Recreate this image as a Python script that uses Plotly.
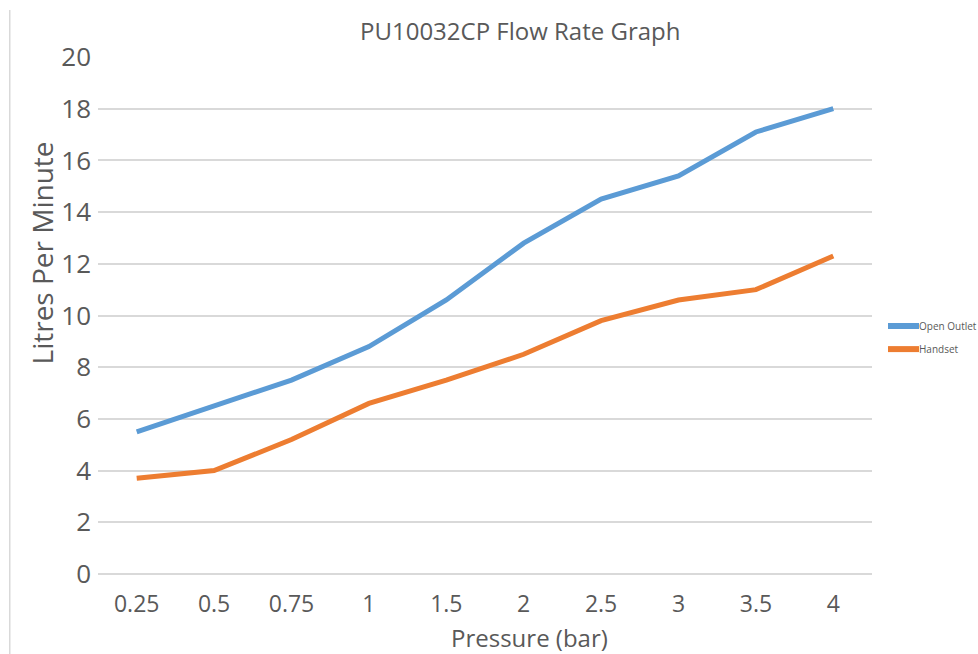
import plotly.graph_objects as go

pressure = ["0.25", "0.5", "0.75", "1", "1.5", "2", "2.5", "3", "3.5", "4"]
open_outlet = [5.5, 6.5, 7.5, 8.8, 10.6, 12.8, 14.5, 15.4, 17.1, 18.0]
handset = [3.7, 4.0, 5.2, 6.6, 7.5, 8.5, 9.8, 10.6, 11.0, 12.3]
y_ticks = list(range(0, 21, 2))

font_fam = "Open Sans, Liberation Sans, sans-serif"
gray = "#595959"
blue = "#5B9BD5"
orange = "#ED7D31"

fig = go.Figure()
fig.add_trace(go.Scatter(x=pressure, y=open_outlet, mode="lines", name="Open Outlet",
                         line=dict(color=blue, width=5)))
fig.add_trace(go.Scatter(x=pressure, y=handset, mode="lines", name="Handset",
                         line=dict(color=orange, width=5)))

# manual legend (placed in paper coordinates)
leg_items = [("Open Outlet", blue, 0.4797), ("Handset", orange, 0.435)]
lx0, lx1 = 1.0207, 1.0607
shapes = [dict(type="line", xref="paper", yref="paper",
               x0=-0.114, x1=-0.114, y0=-0.16, y1=1.091,
               line=dict(color="#d9d9d9", width=1.5))]
annotations = [
    dict(text="PU10032CP Flow Rate Graph", xref="paper", yref="paper",
         x=0.545, y=1.0, yshift=27, showarrow=False,
         font=dict(size=24, color=gray), xanchor="center", yanchor="middle"),
    dict(text="Pressure (bar)", xref="paper", yref="paper",
         x=0.558, y=0, yshift=-63, showarrow=False,
         font=dict(size=24, color=gray), xanchor="center", yanchor="middle"),
    dict(text="Litres Per Minute", xref="paper", yref="paper",
         x=0, xshift=-56, y=0.62, showarrow=False, textangle=-90,
         font=dict(size=28, color=gray), xanchor="center", yanchor="middle"),
]
for name, col, yy in leg_items:
    shapes.append(dict(type="line", xref="paper", yref="paper",
                       x0=lx0, x1=lx1, y0=yy, y1=yy,
                       line=dict(color=col, width=6)))
    annotations.append(dict(text=name, xref="paper", yref="paper",
                            x=lx1, xshift=-1, y=yy, showarrow=False,
                            xanchor="left", yanchor="middle", borderpad=0,
                            font=dict(size=10, color=gray)))

fig.update_layout(
    width=978, height=654,
    margin=dict(l=98, r=106, t=57, b=80, autoexpand=False),
    paper_bgcolor="white", plot_bgcolor="white",
    font=dict(family=font_fam, color=gray),
    showlegend=False,
    xaxis=dict(type="category", range=[-0.5, 9.5], showgrid=False,
               showline=False, zeroline=False, ticks="", automargin=False,
               tickfont=dict(size=23, color=gray), ticklabelstandoff=14),
    yaxis=dict(range=[0, 20], tickvals=y_ticks, showgrid=True,
               gridcolor="#d9d9d9", gridwidth=1.5, zeroline=True,
               zerolinecolor="#d9d9d9", zerolinewidth=1.5, showline=False,
               ticks="", automargin=False,
               tickfont=dict(size=26, color=gray), ticklabelstandoff=6),
    annotations=annotations,
    shapes=shapes,
)

fig.write_html("out.html", config={"displayModeBar": False},
               post_script="document.body.style.margin='0px';document.body.style.overflow='hidden';")
